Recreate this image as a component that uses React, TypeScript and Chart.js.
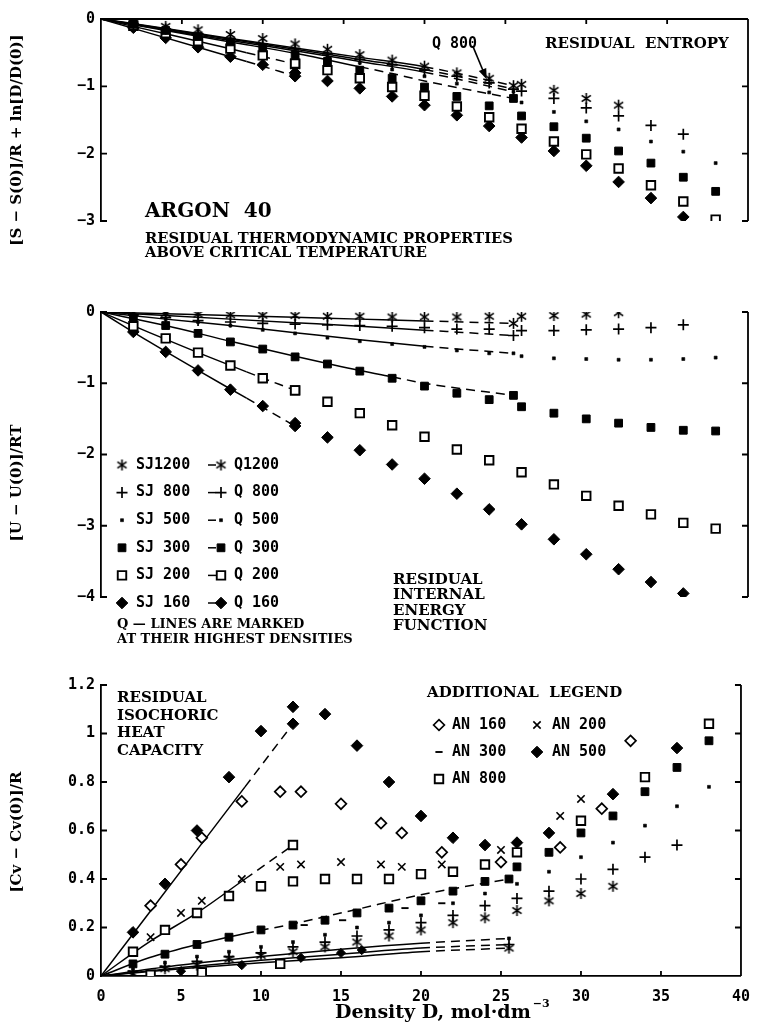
import React, { useEffect, useRef } from 'react';
import { Chart, registerables } from 'chart.js';

Chart.register(...registerables);

// ---------- shared grids ----------
const sjDensity = [2, 4, 6, 8, 10, 12, 14, 16, 18, 20, 22, 24, 26, 28, 30, 32, 34, 36, 38];
const densityTicks = [0, 5, 10, 15, 20, 25, 30, 35, 40];
const qWideDensity = [0, 4, 8, 12, 16, 20, 25.5];
const q300Density = [0, 4, 8, 12, 16, 18, 20, 25.5];
const qLowDensity = [0, 3, 6, 9, 12];

// ---------- residual entropy ----------
const entropyTicks = [0, -1, -2, -3];
const entropySJ1200 = [-0.05, -0.11, -0.16, -0.23, -0.29, -0.37, -0.45, -0.53, -0.61, -0.70, -0.80, -0.88, -0.97, -1.06, -1.18, -1.28];
const entropySJ800 = [-0.07, -0.15, -0.22, -0.29, -0.37, -0.44, -0.52, -0.60, -0.68, -0.76, -0.85, -0.95, -1.07, -1.18, -1.32, -1.44, -1.58, -1.71];
const entropySJ500 = [-0.08, -0.16, -0.24, -0.32, -0.40, -0.48, -0.56, -0.65, -0.75, -0.85, -0.96, -1.09, -1.24, -1.38, -1.52, -1.64, -1.82, -1.97, -2.14];
const entropySJ300 = [-0.08, -0.17, -0.26, -0.34, -0.43, -0.53, -0.63, -0.76, -0.88, -1.01, -1.15, -1.29, -1.44, -1.60, -1.77, -1.96, -2.14, -2.35, -2.56];
const entropySJ200 = [-0.10, -0.21, -0.33, -0.44, -0.54, -0.66, -0.76, -0.88, -1.01, -1.14, -1.30, -1.46, -1.63, -1.82, -2.01, -2.22, -2.47, -2.71, -2.98];
const entropySJ160 = [-0.13, -0.28, -0.42, -0.56, -0.68, -0.80, -0.92, -1.03, -1.15, -1.28, -1.43, -1.59, -1.76, -1.96, -2.18, -2.42, -2.66, -2.94];
const entropyQ1200 = [0, -0.14, -0.29, -0.43, -0.57, -0.71, -0.99];
const entropyQ800 = [0, -0.15, -0.30, -0.45, -0.60, -0.75, -1.04];
const entropyQ500 = [0, -0.16, -0.32, -0.47, -0.63, -0.79, -1.08];
const entropyQ300 = [0, -0.17, -0.34, -0.51, -0.71, -0.81, -0.92, -1.18];
const entropyQ200 = [0, -0.165, -0.33, -0.50, -0.67];
const entropyQ160 = [0, -0.21, -0.42, -0.63, -0.85];
const q800ArrowFrom = [23.0, -0.41];
const q800ArrowTo = [23.85, -0.9];

// ---------- residual internal energy ----------
const energyTicks = [0, -1, -2, -3, -4];
const energySJ1200 = [-0.01, -0.02, -0.03, -0.04, -0.045, -0.05, -0.06, -0.06, -0.07, -0.07, -0.07, -0.06, -0.06, -0.05, -0.03, -0.01];
const energySJ800 = [-0.04, -0.08, -0.12, -0.14, -0.16, -0.17, -0.18, -0.19, -0.20, -0.22, -0.24, -0.24, -0.26, -0.26, -0.25, -0.24, -0.22, -0.18];
const energySJ500 = [-0.05, -0.10, -0.14, -0.19, -0.25, -0.30, -0.36, -0.41, -0.45, -0.49, -0.54, -0.58, -0.62, -0.65, -0.66, -0.67, -0.67, -0.66, -0.64];
const energySJ300 = [-0.09, -0.19, -0.30, -0.42, -0.52, -0.63, -0.73, -0.83, -0.93, -1.04, -1.14, -1.23, -1.33, -1.42, -1.50, -1.56, -1.62, -1.66, -1.67];
const energySJ200 = [-0.20, -0.37, -0.57, -0.75, -0.93, -1.10, -1.26, -1.42, -1.59, -1.75, -1.93, -2.08, -2.25, -2.42, -2.58, -2.72, -2.84, -2.96, -3.04];
const energySJ160 = [-0.28, -0.56, -0.82, -1.09, -1.32, -1.56, -1.76, -1.94, -2.14, -2.34, -2.55, -2.77, -2.98, -3.19, -3.40, -3.61, -3.79, -3.95];
const energyQ1200 = [0, -0.025, -0.05, -0.075, -0.10, -0.125, -0.16];
const energyQ800 = [0, -0.05, -0.10, -0.15, -0.20, -0.255, -0.33];
const energyQ500 = [0, -0.10, -0.19, -0.29, -0.39, -0.48, -0.58];
const energyQ300 = [0, -0.19, -0.41, -0.62, -0.82, -0.91, -1.00, -1.17];
const energyQ200 = [0, -0.29, -0.57, -0.84, -1.10];
const energyQ160 = [0, -0.42, -0.82, -1.21, -1.60];

// ---------- residual isochoric heat capacity ----------
const cvTicks = [0, 0.2, 0.4, 0.6, 0.8, 1, 1.2];
const cvSJ1200 = [0.01, 0.03, 0.045, 0.07, 0.085, 0.10, 0.12, 0.14, 0.165, 0.19, 0.22, 0.24, 0.27, 0.31, 0.34, 0.37];
const cvSJ800 = [0.02, 0.04, 0.06, 0.08, 0.095, 0.12, 0.14, 0.165, 0.19, 0.22, 0.25, 0.29, 0.32, 0.35, 0.40, 0.44, 0.49, 0.54];
const cvSJ500 = [0.03, 0.055, 0.08, 0.10, 0.12, 0.14, 0.17, 0.20, 0.22, 0.25, 0.30, 0.34, 0.38, 0.43, 0.49, 0.55, 0.62, 0.70, 0.78];
const cvSJ300 = [0.05, 0.09, 0.13, 0.16, 0.19, 0.21, 0.23, 0.26, 0.28, 0.31, 0.35, 0.39, 0.45, 0.51, 0.59, 0.66, 0.76, 0.86, 0.97];
const cvSJ200Density = [2, 4, 6, 8, 10, 12, 14, 16, 18, 20, 22, 24, 26, 30, 34, 38];
const cvSJ200 = [0.10, 0.19, 0.26, 0.33, 0.37, 0.39, 0.40, 0.40, 0.40, 0.42, 0.43, 0.46, 0.51, 0.64, 0.82, 1.04];
const cvSJ160Density = [2, 4, 6, 8, 10, 12, 14, 16, 18, 20, 22, 24, 26, 28, 32, 36];
const cvSJ160 = [0.18, 0.38, 0.60, 0.82, 1.01, 1.11, 1.08, 0.95, 0.80, 0.66, 0.57, 0.54, 0.55, 0.59, 0.75, 0.94];
const an160Density = [3.1, 5.0, 6.3, 8.8, 11.2, 12.5, 15.0, 17.5, 18.8, 21.3, 25.0, 28.7, 31.3, 33.1];
const cvAN160 = [0.29, 0.46, 0.57, 0.72, 0.76, 0.76, 0.71, 0.63, 0.59, 0.51, 0.47, 0.53, 0.69, 0.97];
const an200Density = [3.1, 5.0, 6.3, 8.8, 11.2, 12.5, 15.0, 17.5, 18.8, 21.3, 25.0, 28.7, 30.0];
const cvAN200 = [0.16, 0.26, 0.31, 0.40, 0.45, 0.46, 0.47, 0.46, 0.45, 0.46, 0.52, 0.66, 0.73];
const an300Density = [12.7, 15.1, 19.0, 21.3];
const cvAN300 = [0.21, 0.23, 0.28, 0.30];
const an500Density = [5.0, 8.8, 12.5, 15.0, 16.3];
const cvAN500 = [0.02, 0.045, 0.075, 0.095, 0.107];
const an800Density = [3.1, 6.3, 11.2];
const cvAN800 = [0.005, 0.015, 0.05];
const qCvDensity = [0, 5, 10, 15, 20, 25.5];
const cvQ1200 = [0, 0.03, 0.055, 0.075, 0.10, 0.115];
const cvQ800 = [0, 0.035, 0.065, 0.09, 0.115, 0.13];
const cvQ500 = [0, 0.045, 0.08, 0.11, 0.135, 0.155];
const cvQ300Density = [0, 3, 6, 9, 12, 16, 20, 25.5];
const cvQ300 = [0, 0.075, 0.13, 0.175, 0.215, 0.275, 0.335, 0.40];
const cvQ200 = [0, 0.14, 0.26, 0.40, 0.54];
const cvQ160 = [0, 0.26, 0.52, 0.78, 1.04];

// ---------- legend text ----------
const sjLegend = ['SJ1200', 'SJ 800', 'SJ 500', 'SJ 300', 'SJ 200', 'SJ 160'];
const qLegend = ['Q1200', 'Q 800', 'Q 500', 'Q 300', 'Q 200', 'Q 160'];
const anLegend = ['AN 160', 'AN 200', 'AN 300', 'AN 500', 'AN 800'];

const SERIF = '"DejaVu Serif", "Liberation Serif", serif';
const MONO = '"DejaVu Sans Mono", "Liberation Mono", monospace';
const LINE_W = 1.8;

type Sym = 'asterisk' | 'plus' | 'dot' | 'fsquare' | 'osquare' | 'fdiamond' | 'sdiamond' | 'odiamond' | 'xcross' | 'dash';
const tempSyms: Sym[] = ['asterisk', 'plus', 'dot', 'fsquare', 'osquare', 'fdiamond'];
const anSyms: Sym[] = ['odiamond', 'xcross', 'dash', 'fdiamond', 'osquare'];

interface SeriesDef { density: number[]; values: number[]; sym: Sym }
interface LineDef { density: number[]; values: number[]; sym: Sym; dashFrom: number }

function makeAsterisk(): HTMLCanvasElement {
  const c = document.createElement('canvas');
  c.width = 13;
  c.height = 13;
  const g = c.getContext('2d')!;
  g.strokeStyle = '#000';
  g.lineWidth = 1.6;
  const r = 5.6;
  g.beginPath();
  [90, 35, 145].forEach((deg) => {
    const a = (deg * Math.PI) / 180;
    g.moveTo(6.5 - r * Math.cos(a), 6.5 - r * Math.sin(a));
    g.lineTo(6.5 + r * Math.cos(a), 6.5 + r * Math.sin(a));
  });
  g.stroke();
  return c;
}

function symProps(sym: Sym, star: HTMLCanvasElement) {
  switch (sym) {
    case 'asterisk': return { style: star as any, r: 6, bg: '#000', bw: 1 };
    case 'plus': return { style: 'cross', r: 5.5, bg: '#000', bw: 1.7 };
    case 'dot': return { style: 'rect', r: 2.1, bg: '#000', bw: 0.6 };
    case 'fsquare': return { style: 'rect', r: 5.5, bg: '#000', bw: 1 };
    case 'osquare': return { style: 'rect', r: 6.0, bg: '#fff', bw: 1.9 };
    case 'fdiamond': return { style: 'rectRot', r: 5.8, bg: '#000', bw: 1 };
    case 'sdiamond': return { style: 'rectRot', r: 4.6, bg: '#000', bw: 1 };
    case 'odiamond': return { style: 'rectRot', r: 5.4, bg: '#fff', bw: 1.7 };
    case 'xcross': return { style: 'crossRot', r: 5.2, bg: '#000', bw: 1.6 };
    case 'dash': return { style: 'line', r: 3.6, bg: '#000', bw: 1.9 };
  }
}

// legend glyphs, same shapes as the plotted points
function drawSym(ctx: CanvasRenderingContext2D, sym: Sym, x: number, y: number, star: HTMLCanvasElement) {
  const p = symProps(sym, star);
  const r = p.r;
  ctx.save();
  ctx.fillStyle = p.bg;
  ctx.strokeStyle = '#000';
  ctx.lineWidth = p.bw;
  ctx.beginPath();
  if (p.style === 'rect') {
    const s = r * Math.SQRT1_2;
    ctx.rect(x - s, y - s, 2 * s, 2 * s);
    ctx.fill();
    ctx.stroke();
  } else if (p.style === 'rectRot') {
    ctx.moveTo(x - r, y);
    ctx.lineTo(x, y - r);
    ctx.lineTo(x + r, y);
    ctx.lineTo(x, y + r);
    ctx.closePath();
    ctx.fill();
    ctx.stroke();
  } else if (p.style === 'cross') {
    ctx.moveTo(x - r, y); ctx.lineTo(x + r, y);
    ctx.moveTo(x, y - r); ctx.lineTo(x, y + r);
    ctx.stroke();
  } else if (p.style === 'crossRot') {
    const d = r * Math.SQRT1_2;
    ctx.moveTo(x - d, y - d); ctx.lineTo(x + d, y + d);
    ctx.moveTo(x - d, y + d); ctx.lineTo(x + d, y - d);
    ctx.stroke();
  } else if (p.style === 'line') {
    ctx.moveTo(x - r, y); ctx.lineTo(x + r, y);
    ctx.stroke();
  } else {
    ctx.drawImage(star, x - star.width / 2, y - star.height / 2);
  }
  ctx.restore();
}

function txt(ctx: CanvasRenderingContext2D, s: string, x: number, y: number, font: string, align: CanvasTextAlign = 'left') {
  ctx.font = font;
  ctx.fillStyle = '#000';
  ctx.textAlign = align;
  ctx.textBaseline = 'middle';
  ctx.fillText(s, x, y);
}

function vtxt(ctx: CanvasRenderingContext2D, s: string, x: number, y: number, font: string) {
  ctx.save();
  ctx.translate(x, y);
  ctx.rotate(-Math.PI / 2);
  txt(ctx, s, 0, 0, font, 'center');
  ctx.restore();
}

interface PanelSpec {
  height: number;
  padTop: number;
  padBottom: number;
  yMin: number;
  yMax: number;
  yTicks: number[];
  yTitle: string;
  yTitleY: number;
  yFormat: (v: number) => string;
  showX: boolean;
  topBorder: boolean;
  series: SeriesDef[];
  lines: LineDef[];
  dash: number[];
  decorate: (chart: Chart, star: HTMLCanvasElement) => void;
}

const minusFmt = (v: number) => (v === 0 ? '0' : '\u2212' + Math.abs(v));
const TITLE_FONT = `bold 15px ${SERIF}`;

function buildPanel(canvas: HTMLCanvasElement, spec: PanelSpec, star: HTMLCanvasElement) {
  const scatterSets = spec.series.map((s) => {
    const p = symProps(s.sym, star);
    return {
      type: 'scatter' as const,
      data: s.values.map((v, i) => ({ x: s.density[i], y: v })),
      showLine: false,
      pointStyle: p.style,
      pointRadius: p.r,
      pointHoverRadius: p.r,
      pointBackgroundColor: p.bg,
      pointBorderColor: '#000',
      pointBorderWidth: p.bw,
      order: 0,
    };
  });
  const lineSets = spec.lines.map((l) => {
    const p = symProps(l.sym, star);
    const last = l.values.length - 1;
    return {
      type: 'line' as const,
      data: l.values.map((v, i) => ({ x: l.density[i], y: v })),
      borderColor: '#000',
      borderWidth: 1.5,
      fill: false,
      cubicInterpolationMode: 'monotone' as const,
      pointStyle: p.style,
      pointRadius: (c: any) => (c.dataIndex === last ? p.r : 0),
      pointHoverRadius: (c: any) => (c.dataIndex === last ? p.r : 0),
      pointBackgroundColor: p.bg,
      pointBorderColor: '#000',
      pointBorderWidth: p.bw,
      segment: {
        borderDash: (c: any) => (c.p0.parsed.x >= l.dashFrom - 1e-6 ? spec.dash : undefined),
      },
      order: 1,
    };
  });

  const frame = {
    id: 'panelFrame',
    afterDraw(chart: Chart) {
      const { ctx, chartArea: a } = chart;
      const ys = chart.scales.y;
      const xs = chart.scales.x;
      ctx.save();
      ctx.strokeStyle = '#000';
      ctx.lineWidth = LINE_W;
      ctx.beginPath();
      ctx.moveTo(a.right, a.top);
      ctx.lineTo(a.right, a.bottom);
      const stub = 6;
      ctx.moveTo(a.left, a.top); ctx.lineTo(a.left + stub, a.top);
      ctx.moveTo(a.right, a.top); ctx.lineTo(a.right - stub, a.top);
      if (!spec.showX) {
        ctx.moveTo(a.left, a.bottom); ctx.lineTo(a.left + stub, a.bottom);
        ctx.moveTo(a.right, a.bottom); ctx.lineTo(a.right - stub, a.bottom);
      }
      spec.yTicks.forEach((v) => {
        if (v === spec.yMin || v === spec.yMax) return;
        const py = ys.getPixelForValue(v);
        ctx.moveTo(a.left, py); ctx.lineTo(a.left + 6, py);
        ctx.moveTo(a.right, py); ctx.lineTo(a.right - 6, py);
      });
      if (spec.topBorder) {
        ctx.moveTo(a.left, a.top); ctx.lineTo(a.right, a.top);
      }
      densityTicks.forEach((d) => {
        if (d === 0 || d === 40) return;
        const px = xs.getPixelForValue(d);
        if (spec.topBorder) { ctx.moveTo(px, a.top); ctx.lineTo(px, a.top + 5); }
        if (spec.showX) { ctx.moveTo(px, a.bottom); ctx.lineTo(px, a.bottom - 5); }
      });
      ctx.stroke();
      ctx.restore();
      vtxt(ctx, spec.yTitle, 17, spec.yTitleY, TITLE_FONT);
      spec.decorate(chart, star);
    },
  };

  const tickFont = { family: MONO, size: 15, weight: 'bold' as const };
  return new Chart(canvas, {
    type: 'scatter',
    data: { datasets: [...scatterSets, ...lineSets] as any },
    options: {
      animation: false,
      responsive: false,
      devicePixelRatio: 1,
      events: [],
      layout: { autoPadding: false, padding: { left: 0, right: 14, top: spec.padTop, bottom: spec.padBottom } },
      plugins: { legend: { display: false }, tooltip: { enabled: false }, title: { display: false } },
      scales: {
        x: {
          type: 'linear',
          min: 0,
          max: 40,
          display: spec.showX,
          position: 'bottom',
          afterFit: (s: any) => { s.height = 47; },
          afterBuildTicks: (s: any) => { s.ticks = densityTicks.map((value) => ({ value })); },
          border: { display: true, color: '#000', width: LINE_W },
          grid: { display: false, drawTicks: false },
          ticks: { font: tickFont, color: '#000', padding: 12, maxRotation: 0, autoSkip: false, callback: (v: any) => String(v) },
        },
        y: {
          type: 'linear',
          min: spec.yMin,
          max: spec.yMax,
          position: 'left',
          afterFit: (s: any) => { s.width = 101; },
          afterBuildTicks: (s: any) => { s.ticks = spec.yTicks.map((value) => ({ value })); },
          border: { display: true, color: '#000', width: LINE_W },
          grid: { display: false, drawTicks: false },
          ticks: { font: tickFont, color: '#000', padding: 6, autoSkip: false, callback: (v: any) => spec.yFormat(Number(v)) },
        },
      },
    } as any,
    plugins: [frame],
  });
}

function pairsOf(values: number[][], density: number[][], syms: Sym[]): SeriesDef[] {
  return values.map((v, i) => ({ values: v, density: density[i], sym: syms[i] }));
}

function drawArrow(chart: Chart) {
  const { ctx } = chart;
  const xs = chart.scales.x;
  const ys = chart.scales.y;
  const x0 = xs.getPixelForValue(q800ArrowFrom[0]);
  const y0 = ys.getPixelForValue(q800ArrowFrom[1]);
  const x1 = xs.getPixelForValue(q800ArrowTo[0]);
  const y1 = ys.getPixelForValue(q800ArrowTo[1]);
  const ang = Math.atan2(y1 - y0, x1 - x0);
  const L = 11;
  const W = 4;
  ctx.save();
  ctx.strokeStyle = '#000';
  ctx.fillStyle = '#000';
  ctx.lineWidth = 1.6;
  ctx.beginPath();
  ctx.moveTo(x0, y0);
  ctx.lineTo(x1 - Math.cos(ang) * L * 0.8, y1 - Math.sin(ang) * L * 0.8);
  ctx.stroke();
  ctx.beginPath();
  ctx.moveTo(x1, y1);
  ctx.lineTo(x1 - Math.cos(ang) * L - Math.sin(ang) * W, y1 - Math.sin(ang) * L + Math.cos(ang) * W);
  ctx.lineTo(x1 - Math.cos(ang) * L + Math.sin(ang) * W, y1 - Math.sin(ang) * L - Math.cos(ang) * W);
  ctx.closePath();
  ctx.fill();
  ctx.restore();
}

function entropySpec(): PanelSpec {
  return {
    height: 290,
    padTop: 19,
    padBottom: 22,
    yMin: -3,
    yMax: 0,
    yTicks: entropyTicks,
    yTitle: '[S \u2212 S(0)]/R + ln[D/D(0)]',
    yTitleY: 140,
    yFormat: minusFmt,
    showX: false,
    topBorder: true,
    dash: [9, 6],
    series: pairsOf(
      [entropySJ1200, entropySJ800, entropySJ500, entropySJ300, entropySJ200, entropySJ160],
      [sjDensity, sjDensity, sjDensity, sjDensity, sjDensity, sjDensity],
      tempSyms,
    ),
    lines: [
      { density: qWideDensity, values: entropyQ1200, sym: 'asterisk', dashFrom: 20 },
      { density: qWideDensity, values: entropyQ800, sym: 'plus', dashFrom: 20 },
      { density: qWideDensity, values: entropyQ500, sym: 'dot', dashFrom: 20 },
      { density: q300Density, values: entropyQ300, sym: 'fsquare', dashFrom: 16 },
      { density: qLowDensity, values: entropyQ200, sym: 'osquare', dashFrom: 9 },
      { density: qLowDensity, values: entropyQ160, sym: 'fdiamond', dashFrom: 9 },
    ],
    decorate: (chart) => {
      const ctx = chart.ctx;
      drawArrow(chart);
      txt(ctx, 'Q 800', 432, 44, `bold 15px ${MONO}`);
      txt(ctx, 'RESIDUAL  ENTROPY', 545, 44, `bold 15px ${SERIF}`);
      txt(ctx, 'ARGON  40', 145, 212, `bold 20px ${SERIF}`);
      txt(ctx, 'RESIDUAL THERMODYNAMIC PROPERTIES', 145, 239, `bold 14.7px ${SERIF}`);
      txt(ctx, 'ABOVE CRITICAL TEMPERATURE', 145, 253, `bold 14.7px ${SERIF}`);
    },
  };
}

function energySpec(): PanelSpec {
  return {
    height: 370,
    padTop: 22,
    padBottom: 16,
    yMin: -4,
    yMax: 0,
    yTicks: energyTicks,
    yTitle: '[U \u2212 U(0)]/RT',
    yTitleY: 193,
    yFormat: minusFmt,
    showX: false,
    topBorder: false,
    dash: [9, 6],
    series: pairsOf(
      [energySJ1200, energySJ800, energySJ500, energySJ300, energySJ200, energySJ160],
      [sjDensity, sjDensity, sjDensity, sjDensity, sjDensity, sjDensity],
      tempSyms,
    ),
    lines: [
      { density: qWideDensity, values: energyQ1200, sym: 'asterisk', dashFrom: 20 },
      { density: qWideDensity, values: energyQ800, sym: 'plus', dashFrom: 20 },
      { density: qWideDensity, values: energyQ500, sym: 'dot', dashFrom: 20 },
      { density: q300Density, values: energyQ300, sym: 'fsquare', dashFrom: 18 },
      { density: qLowDensity, values: energyQ200, sym: 'osquare', dashFrom: 9 },
      { density: qLowDensity, values: energyQ160, sym: 'fdiamond', dashFrom: 9 },
    ],
    decorate: (chart, star) => {
      const ctx = chart.ctx;
      const font = `bold 15px ${MONO}`;
      sjLegend.forEach((label, i) => {
        const y = 175 + i * 27.6;
        drawSym(ctx, tempSyms[i], 122, y, star);
        txt(ctx, label, 136, y, font);
        ctx.save();
        ctx.strokeStyle = '#000';
        ctx.lineWidth = 1.5;
        ctx.beginPath();
        ctx.moveTo(208, y);
        ctx.lineTo(216, y);
        ctx.stroke();
        ctx.restore();
        drawSym(ctx, tempSyms[i], 221, y, star);
        txt(ctx, qLegend[i], 234, y, font);
      });
      const small = `bold 13px ${SERIF}`;
      txt(ctx, 'Q \u2014 LINES ARE MARKED', 117, 335, small);
      txt(ctx, 'AT THEIR HIGHEST DENSITIES', 117, 350, small);
      const big = `bold 15px ${SERIF}`;
      txt(ctx, 'RESIDUAL', 393, 290, big);
      txt(ctx, 'INTERNAL', 393, 305, big);
      txt(ctx, 'ENERGY', 393, 321, big);
      txt(ctx, 'FUNCTION', 393, 336, big);
    },
  };
}

function cvSpec(): PanelSpec {
  return {
    height: 363,
    padTop: 25,
    padBottom: 0,
    yMin: 0,
    yMax: 1.2,
    yTicks: cvTicks,
    yTitle: '[Cv \u2212 Cv(0)]/R',
    yTitleY: 172,
    yFormat: (v) => String(Math.round(v * 10) / 10),
    showX: true,
    topBorder: false,
    dash: [9, 6],
    series: [
      ...pairsOf(
        [cvSJ1200, cvSJ800, cvSJ500, cvSJ300, cvSJ200, cvSJ160],
        [sjDensity, sjDensity, sjDensity, sjDensity, cvSJ200Density, cvSJ160Density],
        tempSyms,
      ),
      ...pairsOf(
        [cvAN160, cvAN200, cvAN300, cvAN500, cvAN800],
        [an160Density, an200Density, an300Density, an500Density, an800Density],
        ['odiamond', 'xcross', 'dash', 'sdiamond', 'osquare'],
      ),
    ],
    lines: [
      { density: qCvDensity, values: cvQ1200, sym: 'asterisk', dashFrom: 20 },
      { density: qCvDensity, values: cvQ800, sym: 'plus', dashFrom: 20 },
      { density: qCvDensity, values: cvQ500, sym: 'dot', dashFrom: 20 },
      { density: cvQ300Density, values: cvQ300, sym: 'fsquare', dashFrom: 9 },
      { density: qLowDensity, values: cvQ200, sym: 'osquare', dashFrom: 9 },
      { density: qLowDensity, values: cvQ160, sym: 'fdiamond', dashFrom: 9 },
    ],
    decorate: (chart, star) => {
      const ctx = chart.ctx;
      const big = `bold 15px ${SERIF}`;
      txt(ctx, 'RESIDUAL', 117, 38, big);
      txt(ctx, 'ISOCHORIC', 117, 56, big);
      txt(ctx, 'HEAT', 117, 73, big);
      txt(ctx, 'CAPACITY', 117, 91, big);
      txt(ctx, 'ADDITIONAL  LEGEND', 427, 33, big);
      const font = `bold 15px ${MONO}`;
      const cells = [
        [439, 452, 65], [537, 552, 65],
        [439, 452, 92], [537, 552, 92],
        [439, 452, 119],
      ];
      anLegend.forEach((label, i) => {
        const [sx, tx, y] = cells[i];
        drawSym(ctx, anSyms[i], sx, y, star);
        txt(ctx, label, tx, y, font);
      });
      // axis title with superscript exponent
      const tf = `bold 19px ${SERIF}`;
      const title = 'Density D, mol\u00b7dm';
      ctx.font = tf;
      const w = ctx.measureText(title).width;
      txt(ctx, title, 335, 353, tf);
      txt(ctx, '\u22123', 335 + w + 2, 344, `bold 11px ${SERIF}`);
    },
  };
}

export default function App() {
  const topRef = useRef<HTMLCanvasElement>(null);
  const midRef = useRef<HTMLCanvasElement>(null);
  const botRef = useRef<HTMLCanvasElement>(null);

  useEffect(() => {
    const star = makeAsterisk();
    const charts = [
      buildPanel(topRef.current!, entropySpec(), star),
      buildPanel(midRef.current!, energySpec(), star),
      buildPanel(botRef.current!, cvSpec(), star),
    ];
    return () => charts.forEach((c) => c.destroy());
  }, []);

  return (
    <div style={{ position: 'absolute', left: 0, top: 0, width: 762, height: 1023, background: '#fff' }}>
      <canvas ref={topRef} width={762} height={290} style={{ position: 'absolute', left: 0, top: 0, width: 762, height: 290 }} />
      <canvas ref={midRef} width={762} height={370} style={{ position: 'absolute', left: 0, top: 290, width: 762, height: 370 }} />
      <canvas ref={botRef} width={762} height={363} style={{ position: 'absolute', left: 0, top: 660, width: 762, height: 363 }} />
    </div>
  );
}
